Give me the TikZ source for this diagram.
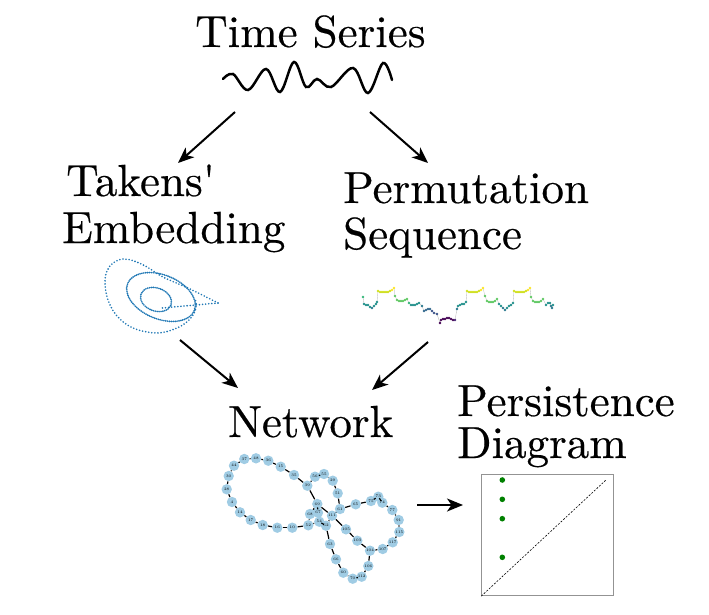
\documentclass[tikz,border=0pt]{standalone}
\usepackage{fontspec}
\newfontfamily\bigf{lmroman10-regular}[Extension=.otf, FakeBold=0.4]
\usetikzlibrary{arrows.meta}
\definecolor{tabblue}{HTML}{1F77B4}
\definecolor{netblue}{RGB}{160,204,228}
\definecolor{pdgreen}{HTML}{008000}
\definecolor{vY}{HTML}{FDE725}
\definecolor{vYb}{HTML}{D2E21B}
\definecolor{vG}{HTML}{5EC962}
\definecolor{vGb}{HTML}{35B779}
\definecolor{vT}{HTML}{21918C}
\definecolor{vTb}{HTML}{2A788E}
\definecolor{vB}{HTML}{3B528B}
\definecolor{vBb}{HTML}{31688E}
\definecolor{vP}{HTML}{440154}
\definecolor{vPb}{HTML}{482878}
\tikzset{
  lbl/.style={font=\bigf\fontsize{45}{46}\selectfont, inner sep=0pt, anchor=base west},
  flow/.style={line width=2pt, -{Stealth[length=16pt,width=13pt,inset=4.5pt]}},
  wave/.style={line width=2.5pt, line cap=round},
  tdense/.style={tabblue, line width=1.9pt, line cap=round, dash pattern=on 0pt off 1.9pt},
  tsparse/.style={tabblue, line width=1.8pt, line cap=round, dash pattern=on 0pt off 3.1pt},
  permline/.style={gray!55, line width=0.35pt},
  netnode/.style={circle, fill=netblue, inner sep=0pt, minimum size=10.4pt, font=\fontsize{3.8}{4}\selectfont},
  netedge/.style={line width=1.2pt},
  pdbox/.style={draw=gray!85, line width=0.8pt, minimum width=131.6pt, minimum height=121.7pt, inner sep=0pt},
  pddot/.style={circle, fill=pdgreen, inner sep=0pt, minimum size=5.6pt},
  diag/.style={line width=0.6pt, dash pattern=on 2pt off 1.5pt}
}
\begin{document}
\begin{tikzpicture}[x=1pt, y=-1pt]
\useasboundingbox (0,0) rectangle (709,615);

% ---- labels
\node[lbl] (ts) at (195,47) {Time Series};
\node[lbl] (tk1) at (66,196) {Takens\textquotesingle};
\node[lbl] (tk2) at (62,243) {Embedding};
\node[lbl] (ps1) at (343,203) {Permutation};
\node[lbl] (ps2) at (343,249) {Sequence};
\node[lbl] (nw) at (228,437) {Network};
\node[lbl] (pd1) at (457,416) {Persistence};
\node[lbl] (pd2) at (457,458) {Diagram};

% ---- time series wave
\draw[wave] plot[smooth, tension=0.6] coordinates {(223,79) (233,74) (248,90) (266,69) (280,92) (294,62) (306,87) (317,79) (331,87) (353,68) (368,93) (383,63) (392,80)};

% ---- arrows
\coordinate (a1s) at (235,112); \coordinate (a1e) at (178,163);
\coordinate (a2s) at (370,112); \coordinate (a2e) at (428,163);
\coordinate (a3s) at (180,340); \coordinate (a3e) at (238,388);
\coordinate (a4s) at (428,342); \coordinate (a4e) at (372,390);
\coordinate (a5s) at (417,505); \coordinate (a5e) at (463,505);
\draw[flow] (a1s) -- (a1e);
\draw[flow] (a2s) -- (a2e);
\draw[flow] (a3s) -- (a3e);
\draw[flow] (a4s) -- (a4e);
\draw[flow] (a5s) -- (a5e);

% ---- Takens embedding (dotted attractor)
\draw[tdense, rotate around={-20:(156,299.5)}] (156,299.5) ellipse [x radius=16pt, y radius=11.5pt];
\draw[tdense, rotate around={-22:(161,297)}] (161,297) ellipse [x radius=36pt, y radius=22pt];
\draw[tsparse] plot[smooth, tension=0.6] coordinates {(218,303) (190,289) (163,277) (147,267) (134,261) (123,259) (113,263) (107,271) (105,283) (108,300) (117,316) (133,328) (157,333) (177,328) (190,319) (196,308) (195,298)};
\draw[tsparse] (218,303) -- (162,308);

% ---- permutation sequence
\def\permdata{363/297/vGb, 364/304/vT, 366/305/vT, 368/305/vT, 370/307/vT, 372/308/vTb, 374/306/vT, 376/304/vT, 377/302/vT,
378/291/vYb, 380/292/vYb, 382/292/vYb, 384/292/vYb, 386/292/vYb, 388/292/vYb, 390/291/vYb, 392/290/vY, 394/288/vY,
395/296/vG, 397/300/vG, 399/301/vG, 401/301/vG, 403/301/vG, 405/300/vG, 407/299/vG,
409/303/vGb, 411/305/vT, 413/305/vT, 415/305/vT, 417/304/vT, 419/303/vT,
422/306/vTb, 424/311/vBb, 426/310/vBb, 428/309/vBb, 430/309/vBb, 432/311/vB, 434/313/vB, 437/314/vB,
440/323/vP, 441/320/vP, 443/319/vP, 445/319/vP, 447/318/vP, 449/318/vP, 451/319/vP, 453/320/vP, 455/320/vPb,
457/309/vTb, 458/306/vT, 460/305/vT, 462/304/vT, 464/304/vT, 466/302/vT,
467/291/vYb, 469/292/vYb, 471/292/vYb, 473/292/vYb, 475/292/vYb, 477/292/vYb, 479/291/vYb, 481/290/vY, 483/288/vY,
485/296/vG, 487/301/vG, 489/302/vG, 491/302/vG, 493/302/vG, 495/301/vG, 497/299/vG,
499/304/vT, 501/306/vT, 503/308/vTb, 505/310/vTb, 507/308/vT, 509/306/vT, 511/305/vT, 513/303/vT,
514/291/vYb, 516/292/vYb, 518/292/vYb, 520/292/vYb, 522/292/vYb, 524/292/vYb, 526/291/vYb, 528/290/vY, 530/288/vY,
531/297/vG, 533/301/vG, 535/302/vG, 537/302/vG, 539/302/vG, 541/301/vG, 543/299/vG,
546/305/vT, 548/303/vT, 550/303/vT, 551/306/vTb, 552/308/vTb, 553/305/vT}
\foreach \x/\y/\c [remember=\x as \px (initially 363), remember=\y as \py (initially 297)] in \permdata {
  \draw[permline] (\px,\py) -- (\x,\y);
}
\foreach \x/\y/\c in \permdata {
  \fill[\c] (\x,\y) circle[radius=1.45pt];
}

% ---- network
\foreach \n/\x/\y in {
48/256/458.3, 37/244.3/459, 44/234/465.7, 30/228.7/476, 28/226.7/489.3, 4/232/502,
14/240/512.3, 17/250.7/520, 18/262.7/525, 16/277.3/527.7, 10/292.3/527.7, 52/308.3/525.3,
36/268.3/460.7, 15/280.7/466.7, 35/294/475, 39/307.3/485.7, 56/315/476.7, 55/324/474,
29/332.7/480.7, 51/337.7/493.3, 61/340/509, 65/355.7/504.3, 75/371/501, 73/378.3/496.7,
74/382.3/502.7, 77/392.3/510, 91/398.7/520, 115/399.3/532, 117/392.7/542.3, 107/382.7/549,
104/370/550.7, 106/368.3/566, 112/361.7/576.7, 70/352.7/578.7, 60/343.3/572.7, 66/336/559.3,
63/330/544, 62/326/525.7, 54/319.3/521.7, 69/317.3/504, 67/318/512.7, 68/310/514,
111/332/515.7, 105/346/529.3, 103/357.3/540.7}
  \node[netnode] (n\n) at (\x,\y) {\n};
\foreach \a/\b in {48/37, 37/44, 44/30, 30/28, 28/4, 4/14, 14/17, 17/18, 18/16, 16/10, 10/52,
48/36, 36/15, 15/35, 35/39, 39/56, 56/55, 55/29, 29/51, 51/61, 61/65, 65/75, 75/73, 73/74,
74/77, 77/91, 91/115, 115/117, 117/107, 107/104, 104/106, 106/112, 112/70, 70/60, 60/66,
66/63, 63/62, 62/54, 54/52, 52/68, 68/69, 69/67, 39/69, 69/111, 111/105, 105/103, 103/104,
61/111, 111/62}
  \draw[netedge] (n\a) -- (n\b);

% ---- persistence diagram
\node[pdbox] (pd) at (547.5,534.85) {};
\coordinate (dgtop) at (606.7,479.3);
\draw[diag] (pd.south west) -- (dgtop);
\node[pddot] (p1) at (502.3,480) {};
\node[pddot] (p2) at (502.3,499.3) {};
\node[pddot] (p3) at (502.3,518.7) {};
\node[pddot] (p4) at (502.3,557.3) {};
\end{tikzpicture}
\end{document}
